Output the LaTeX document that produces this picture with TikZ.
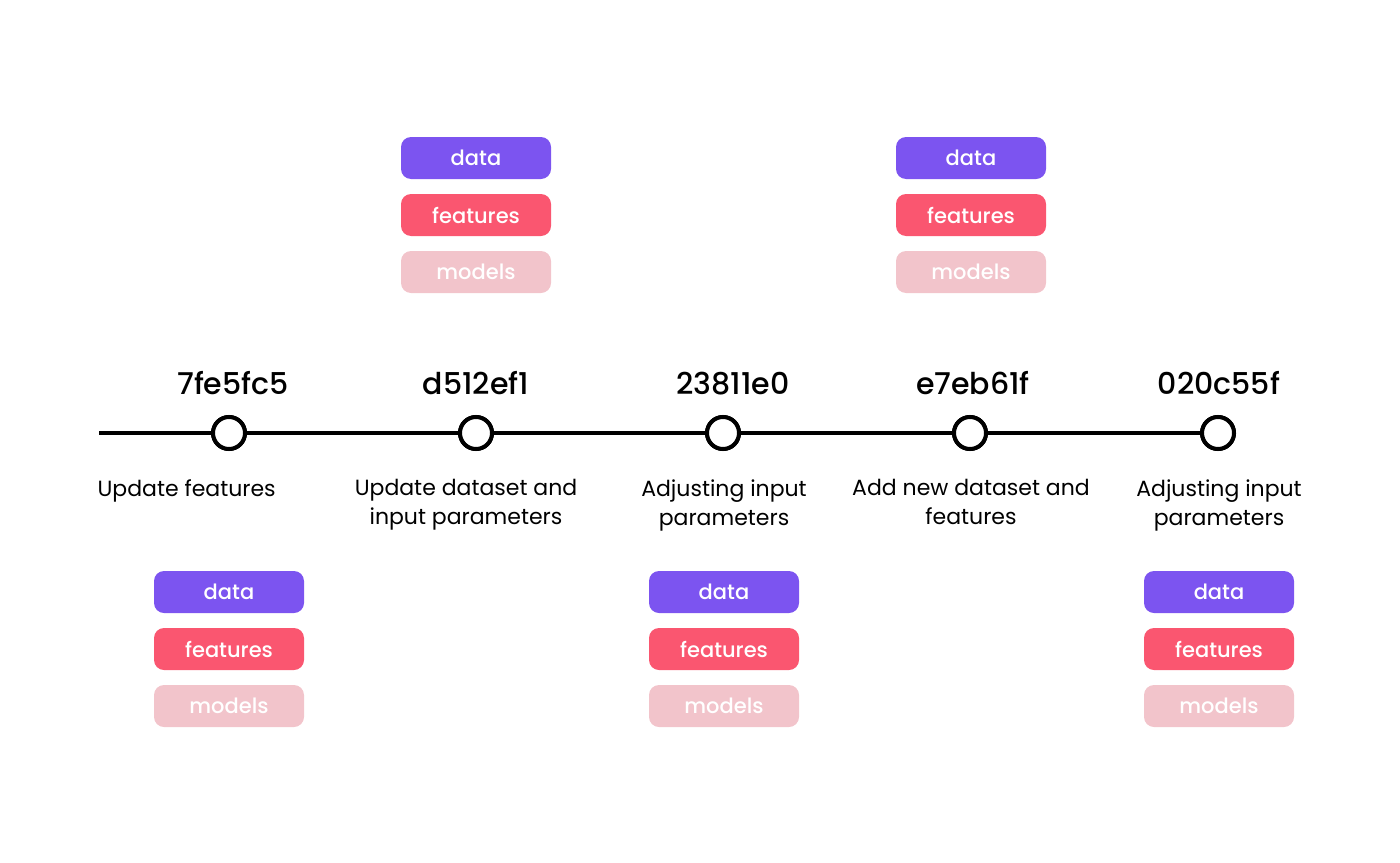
\documentclass[tikz,border=0pt]{standalone}
\usepackage{fontspec}
\setmainfont{Poppins Medium}
\newfontfamily\descfont{Poppins}
\definecolor{cdata}{RGB}{124,84,240}
\definecolor{cfeat}{RGB}{250,86,112}
\definecolor{cmodel}{RGB}{242,196,203}
\begin{document}
\begin{tikzpicture}[x=1pt,y=-1pt,
  tag/.style={rounded corners=10pt,minimum width=150pt,minimum height=42pt,inner sep=0pt,text=white,font=\fontsize{21}{21}\selectfont},
  tdata/.style={tag,fill=cdata},
  tfeat/.style={tag,fill=cfeat},
  tmodel/.style={tag,fill=cmodel},
  commit/.style={circle,draw=black,line width=4pt,fill=white,minimum size=32pt,inner sep=0pt},
  hash/.style={font=\fontsize{30}{30}\selectfont,anchor=base},
  desc/.style={font=\descfont\fontsize{22}{29}\selectfont,align=center,anchor=north}
]
\useasboundingbox (0,0) rectangle (1400,862);
\coordinate (start) at (99,433);
\node[commit] (c1) at (229,433) {};
\node[commit] (c2) at (476,433) {};
\node[commit] (c3) at (723,433) {};
\node[commit] (c4) at (970,433) {};
\node[commit] (c5) at (1218,433) {};
\draw[line width=4pt] (start) -- (c1) -- (c2) -- (c3) -- (c4) -- (c5);
\foreach \n in {1,...,5}{\node[commit] at (c\n) {};}

\node[hash] (h1) at (233,394) {7fe5fc5};
\node[hash] (h2) at (476,394) {d512ef1};
\node[hash] (h3) at (733,394) {23811e0};
\node[hash] (h4) at (973,394) {e7eb61f};
\node[hash] (h5) at (1219,394) {020c55f};

\node[desc,anchor=north west] (d1) at (94,476) {Update features};
\node[desc] (d2) at (466,476) {Update dataset and\\input parameters};
\node[desc] (d3) at (724,476) {Adjusting input\\parameters};
\node[desc] (d4) at (971,476) {Add new dataset and\\features};
\node[desc] (d5) at (1219,476) {Adjusting input\\parameters};

% top tags
\node[tdata] (a2) at (476,158) {data};
\node[tfeat] (b2) at (476,215) {features};
\node[tmodel] (m2) at (476,272) {models};
\node[tdata] (a4) at (971,158) {data};
\node[tfeat] (b4) at (971,215) {features};
\node[tmodel] (m4) at (971,272) {models};
% bottom tags
\node[tdata] (a1) at (229,592) {data};
\node[tfeat] (b1) at (229,649) {features};
\node[tmodel] (m1) at (229,706) {models};
\node[tdata] (a3) at (724,592) {data};
\node[tfeat] (b3) at (724,649) {features};
\node[tmodel] (m3) at (724,706) {models};
\node[tdata] (a5) at (1219,592) {data};
\node[tfeat] (b5) at (1219,649) {features};
\node[tmodel] (m5) at (1219,706) {models};
\end{tikzpicture}
\end{document}
